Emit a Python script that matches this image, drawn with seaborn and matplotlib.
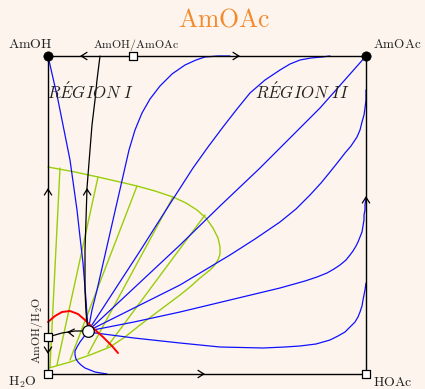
import numpy as np
import pandas as pd
import matplotlib
matplotlib.use("Agg")
import matplotlib.pyplot as plt
import seaborn as sns

# Residue curve map of the AmOH / HOAc / H2O / AmOAc system
# x: towards HOAc (right), y: towards AmOH (top); points given in canvas pixels
W, H = 425, 389
X0, Y0, SIDE = 48, 374, 318

# blue residue curves, all leaving the ternary heterogeneous azeotrope
res_1 = [(48, 56), (53, 78), (58, 100), (64, 130), (70, 160), (77, 210),
         (80, 237), (83, 263), (86, 300), (88, 331)]
res_2 = [(88, 331), (92, 310), (97, 290), (105, 255), (113, 220), (121, 185),
         (129, 150), (135, 130), (142, 113), (150, 99), (160, 86), (172, 74),
         (185, 65), (196, 60), (205, 57), (218, 56), (230, 56)]
res_3 = [(88, 331), (114, 291), (140, 251), (166, 210), (193, 168), (208, 147),
         (223, 127), (237, 109), (250, 93), (265, 80), (280, 70), (290, 64),
         (300, 60), (311, 58), (322, 57), (330, 56)]
res_4 = [(88, 331), (134, 288), (180, 245), (220, 206), (260, 168), (290, 138),
         (320, 108), (343, 82), (366, 56)]
res_5 = [(88, 331), (134, 308), (180, 285), (230, 255), (255, 239), (280, 222),
         (296, 209), (310, 195), (321, 183), (330, 172), (338, 162), (345, 153),
         (351, 146), (357, 137), (360, 130), (362, 122), (364, 115), (365, 108),
         (366, 100), (366, 95), (366, 90)]
res_6 = [(88, 331), (134, 322), (180, 312), (230, 300), (280, 288), (305, 281),
         (317, 277), (327, 273), (334, 269), (340, 265), (346, 260), (350, 255),
         (353, 251), (356, 246), (358, 242), (360, 237), (362, 232), (363, 226),
         (364, 220), (364, 215), (365, 210), (365, 205), (366, 198)]
res_7 = [(88, 332), (134, 338), (180, 343), (220, 347), (263, 348), (285, 347),
         (300, 346), (316, 344), (330, 340), (338, 336), (345, 332), (350, 327),
         (355, 322), (358, 317), (360, 312), (362, 306), (363, 300), (364, 295),
         (365, 290), (366, 283)]
res_8 = [(88, 331), (85, 335), (83, 338), (80, 342), (77, 347), (75, 351),
         (75, 355), (76, 359), (78, 362), (81, 365), (85, 368), (90, 370),
         (95, 372), (101, 373), (107, 374)]

# distillation boundary and azeotrope-to-azeotrope curve
sep = [(100, 56), (97, 80), (95, 100), (92, 125), (90, 150), (87, 188),
       (86, 220), (85, 250), (85, 290), (86, 312), (88, 331)]
azl = [(88, 331), (75, 331), (62, 333), (55, 335), (48, 337)]

# red curve
red = [(48, 322), (55, 316), (62, 312), (70, 311), (78, 314), (85, 320),
       (92, 327), (103, 337), (112, 346), (118, 353)]

# liquid-liquid envelope
binodal = [(48, 167), (75, 172), (98, 177), (120, 182), (137, 186), (155, 191),
           (173, 197), (186, 203), (197, 210), (206, 218), (213, 228), (218, 238),
           (220, 247), (220, 254), (218, 260), (214, 266), (210, 270), (200, 278),
           (190, 287), (180, 295), (160, 310), (140, 325), (125, 337), (110, 347),
           (90, 355), (70, 362), (49, 368)]

# tie lines (organic end, aqueous end)
ties = [((60, 168), (50, 367)), ((98, 177), (57, 365)), ((137, 186), (70, 360)),
        ((173, 197), (88, 354)), ((205, 215), (107, 347))]

# singular points
pure_pts = [(48, 56), (366, 56)]                        # AmOH, AmOAc
square_pts = [(48, 374), (366, 374), (133, 56), (48, 337)]  # H2O, HOAc, azeotropes
tern_pts = [(88, 331)]

BG = "#fdf5ed"


def frac(pts):
    xs = [(p[0] - X0) / SIDE for p in pts]
    ys = [(Y0 - p[1]) / SIDE for p in pts]
    return xs, ys


sns.set_theme(style="white")
plt.rcParams["mathtext.fontset"] = "cm"
plt.rcParams["font.family"] = ["DejaVu Serif"]

fig = plt.figure(figsize=(W / 100, H / 100), dpi=100, facecolor=BG)
ax = fig.add_axes([X0 / W, 1 - Y0 / H, SIDE / W, SIDE / H], facecolor=BG)
ax.set_xlim(0, 1)
ax.set_ylim(0, 1)
ax.axis("off")


def curves(paths, color, lw, z=2):
    frames = []
    for i, pts in enumerate(paths):
        xs, ys = frac(pts)
        frames.append(pd.DataFrame({"x": xs, "y": ys, "c": i}))
    df = pd.concat(frames, ignore_index=True)
    n0 = len(ax.lines)
    sns.lineplot(data=df, x="x", y="y", units="c", estimator=None, sort=False,
                 color=color, lw=lw, ax=ax, legend=False, zorder=z)
    for ln in ax.lines[n0:]:
        ln.set_clip_on(False)
        ln.set_solid_joinstyle("round")


# box edges
curves([[(48, 374), (366, 374), (366, 56), (48, 56), (48, 374)]], "black", 1.0, z=3)

# envelope and tie lines
curves([list(t) for t in ties] + [binodal], "#9acd0a", 1.0)

# residue curves
curves([res_1, res_2, res_3, res_4, res_5, res_6, res_7, res_8], "#1010ff", 0.9)

curves([red], "#ff0000", 1.4)
curves([sep, azl], "black", 0.9, z=3)


def chevron(px, py, dx, dy):
    (x,), (y,) = frac([(px, py)])
    ax.annotate("", xy=(x, y), xytext=(x - dx * 0.01, y - dy * 0.01),
                arrowprops=dict(arrowstyle="->,head_length=0.35,head_width=0.22",
                                color="black", lw=0.9, shrinkA=0, shrinkB=0),
                zorder=4)


chevron(80, 56, -1, 0)
chevron(240, 56, 1, 0)
chevron(48, 188, 0, 1)
chevron(48, 354, 0, -1)
chevron(366, 196, 0, 1)
chevron(205, 374, 1, 0)
chevron(87, 188, -0.02, 1)
chevron(67, 332, -1, 0.1)

sx, sy = frac(square_pts)
sns.scatterplot(x=sx, y=sy, marker="s", s=34, color="white",
                edgecolor="black", linewidth=0.9, ax=ax, clip_on=False, zorder=5)
px_, py_ = frac(pure_pts)
sns.scatterplot(x=px_, y=py_, marker="o", s=45, color="black",
                edgecolor="black", linewidth=0.5, ax=ax, clip_on=False, zorder=5)
tx, ty = frac(tern_pts)
sns.scatterplot(x=tx, y=ty, marker="o", s=70, color="white",
                edgecolor="black", linewidth=0.9, ax=ax, clip_on=False, zorder=6)


def ftext(px, py, s, **kw):
    fig.text(px / W, 1 - py / H, s, **kw)


INK = "#222222"
ftext(224, 19, r"$\mathrm{AmOAc}$", fontsize=18.5, color="#f28a2e",
      ha="center", va="center")
ftext(30, 48, r"$\mathrm{AmOH}$", fontsize=10, color=INK, ha="center", va="baseline")
ftext(136, 48, r"$\mathrm{AmOH/AmOAc}$", fontsize=8.5, color=INK,
      ha="center", va="baseline")
ftext(397, 48, r"$\mathrm{AmOAc}$", fontsize=9.5, color=INK, ha="center", va="baseline")
ftext(22, 386, r"$\mathrm{H_2O}$", fontsize=10, color=INK, ha="center", va="baseline")
ftext(393, 386, r"$\mathrm{HOAc}$", fontsize=10, color=INK, ha="center", va="baseline")
ftext(37, 330, r"$\mathrm{AmOH/H_2O}$", fontsize=8.5, color=INK,
      ha="center", va="center", rotation=90)
ftext(91, 99, r"$\mathit{R\acute{E}GION}$ $\mathit{I}$", fontsize=12, color=INK,
      ha="center", va="baseline")
ftext(302, 99, r"$\mathit{R\acute{E}GION}$ $\mathit{II}$", fontsize=12, color=INK,
      ha="center", va="baseline")

fig.savefig("out.png", dpi=100, facecolor=BG)
